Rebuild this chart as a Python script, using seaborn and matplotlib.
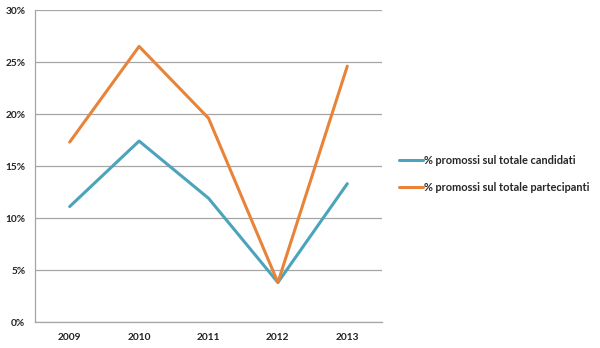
import matplotlib
matplotlib.use("Agg")
import matplotlib.pyplot as plt
import seaborn as sns
import pandas as pd
from matplotlib.ticker import FixedLocator, PercentFormatter

years = ["2009", "2010", "2011", "2012", "2013"]
candidati = [11.1, 17.4, 11.9, 3.8, 13.3]
partecipanti = [17.3, 26.5, 19.6, 3.8, 24.6]
series_names = ["% promossi sul totale candidati", "% promossi sul totale partecipanti"]
colors = ["#4BA3BC", "#E8833A"]

df = pd.DataFrame({
    "anno": years * 2,
    "valore": candidati + partecipanti,
    "serie": [series_names[0]] * len(years) + [series_names[1]] * len(years),
})

sns.set_style("white")
plt.rcParams["font.family"] = ["Lato", "DejaVu Sans"]

fig = plt.figure(figsize=(6, 3.48), dpi=100)
ax = fig.add_axes([35 / 600, 1 - 322 / 348, (382 - 35) / 600, (322 - 10) / 348])

sns.lineplot(data=df, x="anno", y="valore", hue="serie", palette=colors,
             linewidth=2.2, sort=False, ax=ax, legend=True)

ax.set_xlim(-0.5, len(years) - 0.5)
ax.set_ylim(0, 30)
ax.set_yticks(range(0, 31, 5))
ax.yaxis.set_major_formatter(PercentFormatter(decimals=0))
ax.grid(axis="y", color="#A6A6A6", linewidth=0.9)
ax.set_axisbelow(True)
ax.set_xlabel("")
ax.set_ylabel("")

for s in ["top", "right"]:
    ax.spines[s].set_visible(False)
for s in ["left", "bottom"]:
    ax.spines[s].set_color("#A6A6A6")
    ax.spines[s].set_linewidth(0.9)

ax.tick_params(axis="x", which="major", length=0, pad=8, labelsize=7.3, colors="#222222")
ax.xaxis.set_minor_locator(FixedLocator([i - 0.5 for i in range(len(years) + 1)]))
ax.tick_params(axis="x", which="minor", length=4, color="#A6A6A6", width=0.9)
ax.tick_params(axis="y", which="major", length=4, color="#A6A6A6", width=0.9,
               labelsize=7.3, colors="#222222", pad=3)
for lbl in ax.get_xticklabels() + ax.get_yticklabels():
    lbl.set_fontweight("bold")

handles, labels = ax.get_legend_handles_labels()
ax.legend(handles, labels, loc="center left", bbox_to_anchor=(399 / 600, 1 - 174 / 348),
          bbox_transform=fig.transFigure, frameon=False, handlelength=2.2,
          handletextpad=0.1, labelspacing=1.5, borderaxespad=0, borderpad=0,
          prop={"size": 7.9, "weight": "bold"})

fig.savefig("out.png", dpi=100)
